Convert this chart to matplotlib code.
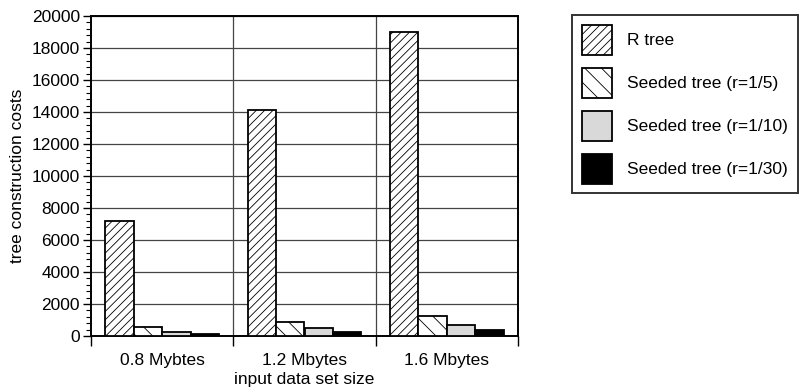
import numpy as np
import matplotlib
matplotlib.use("Agg")
import matplotlib.pyplot as plt
from matplotlib.ticker import MultipleLocator

plt.rcParams['font.family'] = ['Liberation Sans', 'DejaVu Sans']
plt.rcParams['hatch.linewidth'] = 0.6

# data
categories = ["0.8 Mybtes", "1.2 Mbytes", "1.6 Mbytes"]
series_names = ["R tree", "Seeded tree (r=1/5)", "Seeded tree (r=1/10)", "Seeded tree (r=1/30)"]
r_tree = [7200, 14150, 19000]
seeded_5 = [570, 900, 1280]
seeded_10 = [280, 500, 690]
seeded_30 = [130, 270, 360]

values = [r_tree, seeded_5, seeded_10, seeded_30]
faces = ["white", "white", "#d9d9d9", "black"]
hatches = ["////", "\\\\", None, None]

fig = plt.figure(figsize=(8.02, 3.87), dpi=100)
ax = fig.add_axes([91 / 802, 51 / 387, 427 / 802, 320 / 387])

x = np.arange(len(categories))
width = 0.2
offsets = (np.arange(len(values)) - 1.5) * width
for vals, off, fc, h, name in zip(values, offsets, faces, hatches, series_names):
    ax.bar(x + off, vals, width, color=fc, edgecolor="black", linewidth=1.3,
           hatch=h, label=name, zorder=3)

# horizontal grid
for yv in range(2000, 20001, 2000):
    ax.axhline(yv, color="#444444", linewidth=0.9, zorder=1)
# category separators
for xv in [0.5, 1.5]:
    ax.axvline(xv, color="#444444", linewidth=0.9, zorder=1)

ax.set_xlim(-0.5, 2.5)
ax.set_ylim(0, 20000)
ax.yaxis.set_major_locator(MultipleLocator(2000))
ax.yaxis.set_minor_locator(MultipleLocator(400))
ax.tick_params(axis="y", which="major", length=6, width=1, labelsize=12.5, pad=2)
ax.tick_params(axis="y", which="minor", length=3.5, width=0.8)

ax.set_xticks(x)
ax.set_xticklabels(categories)
ax.set_xticks([-0.5, 0.5, 1.5, 2.5], minor=True)
ax.tick_params(axis="x", which="major", length=0, labelsize=12.5, pad=12)
ax.tick_params(axis="x", which="minor", length=7, width=1)

for s in ax.spines.values():
    s.set_linewidth(1.4)
    s.set_color("black")

ax.set_ylabel("tree construction costs", fontsize=12.5, labelpad=5)
ax.set_xlabel("input data set size", fontsize=12.5, labelpad=3)

leg = ax.legend(loc="upper left", bbox_to_anchor=(572 / 802, 372 / 387),
                bbox_transform=fig.transFigure, fontsize=12.5, frameon=True,
                fancybox=False, edgecolor="black", handlelength=1.75,
                handleheight=2.28, labelspacing=0.75, handletextpad=0.88,
                borderpad=0.55, borderaxespad=0)
leg.get_frame().set_linewidth(1.4)

fig.savefig("out.png", dpi=100)
